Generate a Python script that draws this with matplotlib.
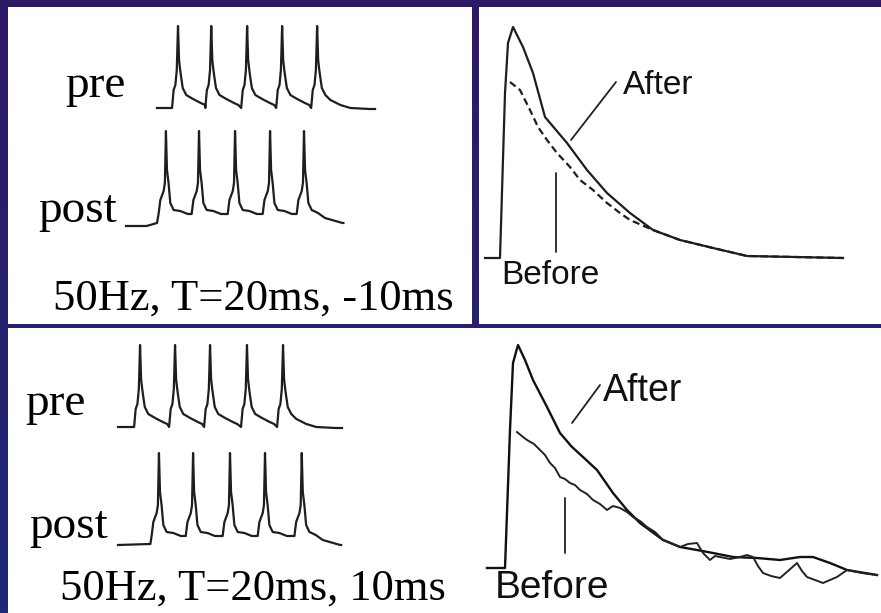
import numpy as np
import matplotlib
matplotlib.use("Agg")
import matplotlib.pyplot as plt
from matplotlib.patches import Rectangle

W, H = 881, 613

# ---- spike waveform (ms from spike peak, mV above rest)
pre_core_t = [-3.4, -2.5, -1.5, -0.7, 0.0, 0.6, 1.1, 1.7, 2.7]
pre_core_v = [0, 18, 23, 38, 82, 48, 40, 32, 20]
pre_decay_t = [4.7, 8.6, 13.0, 15.5]
pre_decay_v = [13, 9, 5, 3]
pre_tail_t = [4.7, 7.6, 13.3, 19.0, 30.0]
pre_tail_v = [13, 8, 3, 0, -1]

post_core_t = [-4.2, -3.2, -1.3, -0.6, 0.0, 0.6, 1.5, 2.5, 4.4]
post_core_v = [9, 23, 32, 40, 92, 53, 40, 20, 13]
post_decay_t = [8.2, 12.5, 14.3]
post_decay_v = [12, 9, 9]
post_tail_t = [8.0, 12.0, 22.0]
post_tail_v = [10, 5, 0]

# spike times (ms) for the two pairing protocols
top_pre_spikes = [12.0, 31.0, 51.5, 71.5, 91.5]
top_post_spikes = [5.1, 24.0, 44.6, 64.6, 84.0]
bot_pre_spikes = [12.6, 32.6, 52.6, 73.7, 94.3]
bot_post_spikes = [23.4, 42.9, 64.0, 84.0, 105.0]

# ---- EPSPs (time in samples from trace start, amplitude in a.u.)
top_after_t = [0, 15, 20, 23, 28, 38, 48, 60, 82, 102, 122, 145, 168, 195, 228, 262, 358]
top_after_v = [0, 0, 165, 215, 231, 211, 185, 141, 115, 88, 65, 45, 28, 18, 10, 2, 0]
top_before_t = [25, 35, 45, 53, 62, 72, 85, 95, 108, 122, 135, 145, 168, 195, 228, 262, 358]
top_before_v = [176, 168, 148, 131, 118, 105, 91, 78, 68, 55, 45, 38, 28, 18, 10, 2, 0]

bot_after_t = [0, 18, 23, 26, 31, 38, 46, 60, 73, 85, 96, 110, 126, 140, 153, 176, 193,
               210, 226, 246, 270, 293, 313, 326, 343, 360, 390]
bot_after_v = [0, 0, 138, 205, 223, 208, 188, 161, 135, 121, 111, 98, 75, 58, 45, 28, 21,
               18, 15, 11, 10, 8, 11, 11, 5, -2, -7]
bot_before_t = [30, 36, 40, 47, 53, 58, 63, 68, 73, 78, 83, 88, 93, 100, 106, 113, 120, 126,
                133, 140, 146, 153, 160, 168, 176, 184, 193, 201, 210, 216, 223, 228, 233,
                243, 253, 260, 266, 271, 276, 284, 293, 301, 310, 315, 320, 328, 336, 343,
                350, 360, 375, 390]
bot_before_v = [136, 131, 128, 124, 118, 113, 105, 100, 91, 89, 85, 83, 78, 74, 68, 64, 58, 62,
                60, 56, 51, 47, 41, 36, 28, 25, 21, 24, 25, 15, 8, 12, 11, 9, 11, 13, 11, 2,
                -5, -8, -10, -3, 5, -3, -9, -12, -15, -12, -9, -2, -5, -7]

labels_top = ("pre", "post", "50Hz, T=20ms, -10ms")
labels_bot = ("pre", "post", "50Hz, T=20ms, 10ms")


def spike_train(start_t, start_v, spikes, core_t, core_v, decay_t, decay_v,
                tail_t, tail_v, end_t):
    t = list(start_t)
    v = list(start_v)
    for i, s in enumerate(spikes):
        last = i == len(spikes) - 1
        t += [s + x for x in core_t + (tail_t if last else decay_t)]
        v += core_v + (tail_v if last else decay_v)
    t.append(end_t)
    v.append(v[-1])
    return np.array(t), np.array(v)


def panel_axes(box, origin, sx=1.0, sy=1.0):
    # box in pixels (x0, y0, x1, y1), origin = pixel of data (0, 0)
    x0, y0, x1, y1 = box
    ax = fig.add_axes([x0 / W, 1 - y1 / H, (x1 - x0) / W, (y1 - y0) / H])
    ax.set_xlim((x0 - origin[0]) / sx, (x1 - origin[0]) / sx)
    ax.set_ylim((origin[1] - y1) / sy, (origin[1] - y0) / sy)
    ax.axis("off")
    ax.patch.set_alpha(0)
    return ax


fig = plt.figure(figsize=(W / 100, H / 100), dpi=100)

# background with white panels
bg = fig.add_axes([0, 0, 1, 1])
top_col = np.array([46, 24, 102]) / 255
bot_col = np.array([30, 42, 118]) / 255
grad = np.linspace(0, 1, 256)[:, None, None] * (bot_col - top_col) + top_col
bg.imshow(grad, extent=[0, W, H, 0], aspect="auto")
bg.set_xlim(0, W)
bg.set_ylim(H, 0)
bg.axis("off")
for (x0, y0, x1, y1) in [(8, 7, 472, 324), (479, 7, W, 324), (8, 328, W, H)]:
    bg.add_patch(Rectangle((x0, y0), x1 - x0, y1 - y0, facecolor="white", edgecolor="none"))

trace_kw = dict(color="#1e1e1e", lw=1.6, solid_joinstyle="round")
serif = dict(family="Liberation Serif", color="black")
sans = dict(family="Liberation Sans", color="#111111")

# ---- top-left: spike trains, post before pre
ax = panel_axes((8, 7, 472, 324), (157, 108), sx=1.75)
t, v = spike_train([0.0], [0], top_pre_spikes, pre_core_t, pre_core_v,
                   pre_decay_t, pre_decay_v, pre_tail_t, pre_tail_v, 124.6)
ax.plot(t, v, **trace_kw)
t, v = spike_train([-17.7, -6.0, 0.0], [-3, -3, 0], top_post_spikes, post_core_t,
                   post_core_v, post_decay_t, post_decay_v, post_tail_t, post_tail_v, 106.5)
ax.plot(t, v - 115, **trace_kw)

fig.text(65 / W, 1 - 97 / H, labels_top[0], fontsize=34, va="baseline", ha="left", **serif)
fig.text(38 / W, 1 - 222 / H, labels_top[1], fontsize=34, va="baseline", ha="left", **serif)
fig.text(53 / W, 1 - 310 / H, labels_top[2], fontsize=32, va="baseline", ha="left", **serif)

# ---- top-right: EPSP before / after
ax = panel_axes((479, 7, W, 324), (485, 258))
ax.plot(top_after_t, top_after_v, **trace_kw)
ax.plot(top_before_t, top_before_v, color="#1e1e1e", lw=1.6, linestyle=(0, (3.2, 1.8)))
ax.annotate("", xy=(86, 118), xytext=(131, 176),
            arrowprops=dict(arrowstyle="-", color="#222222", lw=1.3, shrinkA=0, shrinkB=0))
ax.text(173, 173, "After", fontsize=24, ha="center", va="center", **sans)
ax.annotate("", xy=(71, 6), xytext=(71, 85),
            arrowprops=dict(arrowstyle="-", color="#222222", lw=1.3, shrinkA=0, shrinkB=0))
ax.text(65, -18, "Before", fontsize=24, ha="center", va="center", **sans)

# ---- bottom-left: spike trains, pre before post
ax = panel_axes((8, 328, 472, H), (118, 427), sx=1.75)
t, v = spike_train([0.0], [0], bot_pre_spikes, pre_core_t, pre_core_v,
                   pre_decay_t, pre_decay_v, pre_tail_t, pre_tail_v, 128.0)
ax.plot(t, v, **trace_kw)
t, v = spike_train([0.0, 18.5], [0, 1], bot_post_spikes, post_core_t, post_core_v,
                   post_decay_t, post_decay_v, post_tail_t, post_tail_v, 127.5)
ax.plot(t, v - 118, **trace_kw)

fig.text(25 / W, 1 - 415 / H, labels_bot[0], fontsize=34, va="baseline", ha="left", **serif)
fig.text(29 / W, 1 - 538 / H, labels_bot[1], fontsize=34, va="baseline", ha="left", **serif)
fig.text(60 / W, 1 - 600 / H, labels_bot[2], fontsize=32, va="baseline", ha="left", **serif)

# ---- bottom-right: EPSP before / after (noisier recording)
ax = panel_axes((472, 328, W, H), (487, 568))
ax.plot(bot_after_t, bot_after_v, color="#111111", lw=1.7)
ax.plot(bot_before_t, bot_before_v, color="#222222", lw=1.4)
ax.annotate("", xy=(85, 145), xytext=(113, 183),
            arrowprops=dict(arrowstyle="-", color="#222222", lw=1.3, shrinkA=0, shrinkB=0))
ax.text(156, 177, "After", fontsize=27, ha="center", va="center", **sans)
ax.annotate("", xy=(78, 15), xytext=(78, 70),
            arrowprops=dict(arrowstyle="-", color="#222222", lw=1.3, shrinkA=0, shrinkB=0))
ax.text(65, -20, "Before", fontsize=28, ha="center", va="center", **sans)

fig.savefig("out.png", dpi=100)
